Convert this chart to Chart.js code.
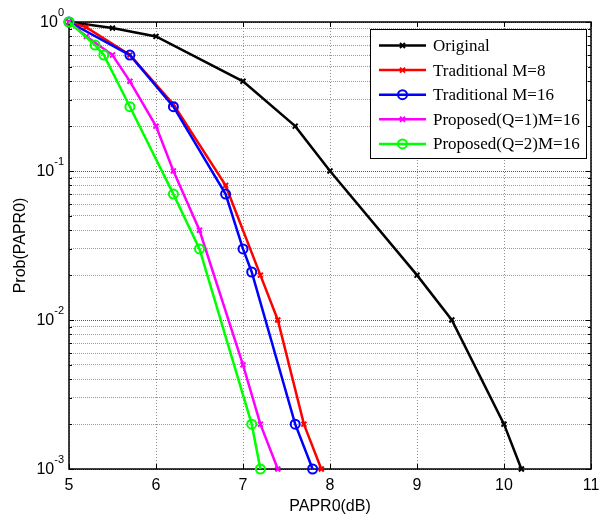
<!DOCTYPE html>
<html>
<head>
<meta charset="utf-8">
<script src="https://cdn.jsdelivr.net/npm/chart.js@4.4.0/dist/chart.umd.min.js"></script>
<style>
  html, body { margin: 0; padding: 0; background: #fff; }
</style>
</head>
<body>
<canvas id="paprChart" width="608" height="517"></canvas>
<script>
// CCDF of PAPR0
const seriesNames = ['Original', 'Traditional M=8', 'Traditional M=16', 'Proposed(Q=1)M=16', 'Proposed(Q=2)M=16'];
const seriesColors = ['#000000', '#ff0000', '#0000ff', '#ff00ff', '#00ff00'];
const seriesMarkers = ['x', 'x', 'o', 'x', 'o'];

const xOriginal = [5, 5.5, 6, 7, 7.6, 8, 9, 9.4, 10, 10.2];
const yOriginal = [1, 0.91, 0.8, 0.4, 0.2, 0.1, 0.02, 0.01, 0.002, 0.001];

const xTradM8 = [5, 5.2, 5.7, 6.2, 6.8, 7.2, 7.4, 7.7, 7.9];
const yTradM8 = [1, 0.92, 0.6, 0.28, 0.08, 0.02, 0.01, 0.002, 0.001];

const xTradM16 = [5, 5.7, 6.2, 6.8, 7.0, 7.1, 7.6, 7.8];
const yTradM16 = [1, 0.6, 0.27, 0.07, 0.03, 0.021, 0.002, 0.001];

const xPropQ1 = [5, 5.2, 5.5, 5.7, 6, 6.2, 6.5, 7, 7.2, 7.4];
const yPropQ1 = [1, 0.8, 0.6, 0.4, 0.2, 0.1, 0.04, 0.005, 0.002, 0.001];

const xPropQ2 = [5, 5.3, 5.4, 5.7, 6.2, 6.5, 7.1, 7.2];
const yPropQ2 = [1, 0.7, 0.6, 0.27, 0.07, 0.03, 0.002, 0.001];

const xTicks = [5, 6, 7, 8, 9, 10, 11];
const yDecades = [0.001, 0.01, 0.1, 1];
const yExponents = ['-3', '-2', '-1', '0'];

const allX = [xOriginal, xTradM8, xTradM16, xPropQ1, xPropQ2];
const allY = [yOriginal, yTradM8, yTradM16, yPropQ1, yPropQ2];

// minor grid values 1..9 x decade
const yGrid = [];
for (let d = 0; d < yDecades.length - 1; d++) {
  for (let m = 1; m <= 9; m++) yGrid.push(+(m * yDecades[d]).toPrecision(3));
}
yGrid.push(yDecades[yDecades.length - 1]);

function isDecade(v) {
  const l = Math.log10(v);
  return Math.abs(l - Math.round(l)) < 1e-6;
}

const datasets = seriesNames.map((name, i) => ({
  label: name,
  data: allX[i].map((x, k) => ({ x: x, y: allY[i][k] })),
  borderColor: seriesColors[i],
  backgroundColor: 'rgba(0,0,0,0)',
  borderWidth: 2.5,
  pointStyle: seriesMarkers[i] === 'o' ? 'circle' : 'crossRot',
  pointRadius: seriesMarkers[i] === 'o' ? 4.5 : 3.5,
  pointBorderWidth: 2,
  pointBorderColor: seriesColors[i],
  pointBackgroundColor: 'rgba(0,0,0,0)',
  tension: 0,
  clip: false,
  order: seriesNames.length - 1 - i
}));

function drawMarker(ctx, kind, cx, cy, color) {
  ctx.strokeStyle = color;
  ctx.lineWidth = 2;
  ctx.beginPath();
  if (kind === 'o') {
    ctx.arc(cx, cy, 4.5, 0, Math.PI * 2);
  } else {
    const r = 2.5;
    ctx.moveTo(cx - r, cy - r); ctx.lineTo(cx + r, cy + r);
    ctx.moveTo(cx - r, cy + r); ctx.lineTo(cx + r, cy - r);
  }
  ctx.stroke();
}

// MATLAB-style box, inward ticks, 10^n labels and legend
const matlabLook = {
  id: 'matlabLook',
  beforeDatasetsDraw(chart) {
    const { ctx, chartArea: a, scales: { x, y } } = chart;
    ctx.save();
    ctx.strokeStyle = '#000';
    ctx.lineWidth = 1;
    ctx.beginPath();
    xTicks.forEach(v => {
      const px = Math.round(x.getPixelForValue(v)) + 0.5;
      ctx.moveTo(px, a.bottom); ctx.lineTo(px, a.bottom - 5);
      ctx.moveTo(px, a.top); ctx.lineTo(px, a.top + 5);
    });
    yGrid.forEach(v => {
      const py = Math.round(y.getPixelForValue(v)) + 0.5;
      const len = isDecade(v) ? 5 : 3;
      ctx.moveTo(a.left, py); ctx.lineTo(a.left + len, py);
      ctx.moveTo(a.right, py); ctx.lineTo(a.right - len, py);
    });
    ctx.stroke();
    ctx.lineWidth = 1.5;
    ctx.strokeRect(a.left, a.top, a.width, a.height);

    // y tick labels as 10^n
    ctx.fillStyle = '#000';
    ctx.textBaseline = 'middle';
    yDecades.forEach((v, i) => {
      const py = y.getPixelForValue(v);
      ctx.font = '11px "Liberation Sans", Arial, sans-serif';
      const ew = ctx.measureText(yExponents[i]).width;
      const right = a.left - 5;
      ctx.textAlign = 'right';
      ctx.fillText(yExponents[i], right, py - 9);
      ctx.font = '16px "Liberation Sans", Arial, sans-serif';
      ctx.fillText('10', right - ew, py + 1);
    });
    ctx.restore();
  },
  afterDatasetsDraw(chart) {
    const { ctx } = chart;
    const bx = 370, by = 29, bw = 216, bh = 129;
    ctx.save();
    ctx.fillStyle = '#fff';
    ctx.fillRect(bx, by, bw, bh);
    ctx.strokeStyle = '#000';
    ctx.lineWidth = 1;
    ctx.strokeRect(bx + 0.5, by + 0.5, bw, bh);
    ctx.font = '17px "Liberation Serif", "Times New Roman", serif';
    ctx.textBaseline = 'middle';
    ctx.textAlign = 'left';
    seriesNames.forEach((name, i) => {
      const cy = 45.5 + i * 24.6;
      ctx.strokeStyle = seriesColors[i];
      ctx.lineWidth = 2.5;
      ctx.beginPath();
      ctx.moveTo(379, cy); ctx.lineTo(426, cy);
      ctx.stroke();
      drawMarker(ctx, seriesMarkers[i], 402.5, cy, seriesColors[i]);
      ctx.fillStyle = '#000';
      ctx.fillText(name, 433, cy + 1);
    });
    ctx.restore();
  }
};

new Chart(document.getElementById('paprChart').getContext('2d'), {
  type: 'line',
  data: { datasets: datasets },
  options: {
    responsive: false,
    animation: false,
    events: [],
    layout: { padding: { left: 0, top: 22, right: 17, bottom: 0 } },
    plugins: { legend: { display: false }, tooltip: { enabled: false } },
    scales: {
      x: {
        type: 'linear',
        min: 5,
        max: 11,
        afterFit: s => { s.height = 48; },
        afterBuildTicks: s => { s.ticks = xTicks.map(v => ({ value: v })); },
        ticks: {
          color: '#000',
          padding: 7,
          font: { family: '"Liberation Sans", Arial, sans-serif', size: 16 },
          autoSkip: false
        },
        grid: { color: '#8c8c8c', lineWidth: 1, drawTicks: false },
        border: { display: false, dash: [1, 2] },
        title: {
          display: true,
          text: 'PAPR0(dB)',
          color: '#000',
          font: { family: '"Liberation Sans", Arial, sans-serif', size: 16 },
          padding: { top: 0, bottom: 1 }
        }
      },
      y: {
        type: 'logarithmic',
        min: 0.001,
        max: 1,
        afterFit: s => { s.width = 69; },
        afterBuildTicks: s => { s.ticks = yGrid.map(v => ({ value: v })); },
        ticks: { display: false, autoSkip: false },
        grid: {
          color: c => (c.tick && isDecade(c.tick.value)) ? '#555555' : '#9a9a9a',
          lineWidth: 1,
          drawTicks: false
        },
        border: { display: false, dash: [1, 1] },
        title: {
          display: true,
          text: 'Prob(PAPR0)',
          color: '#000',
          font: { family: '"Liberation Sans", Arial, sans-serif', size: 16 },
          padding: { top: 11, bottom: 0 }
        }
      }
    }
  },
  plugins: [matlabLook]
});
</script>
</body>
</html>
